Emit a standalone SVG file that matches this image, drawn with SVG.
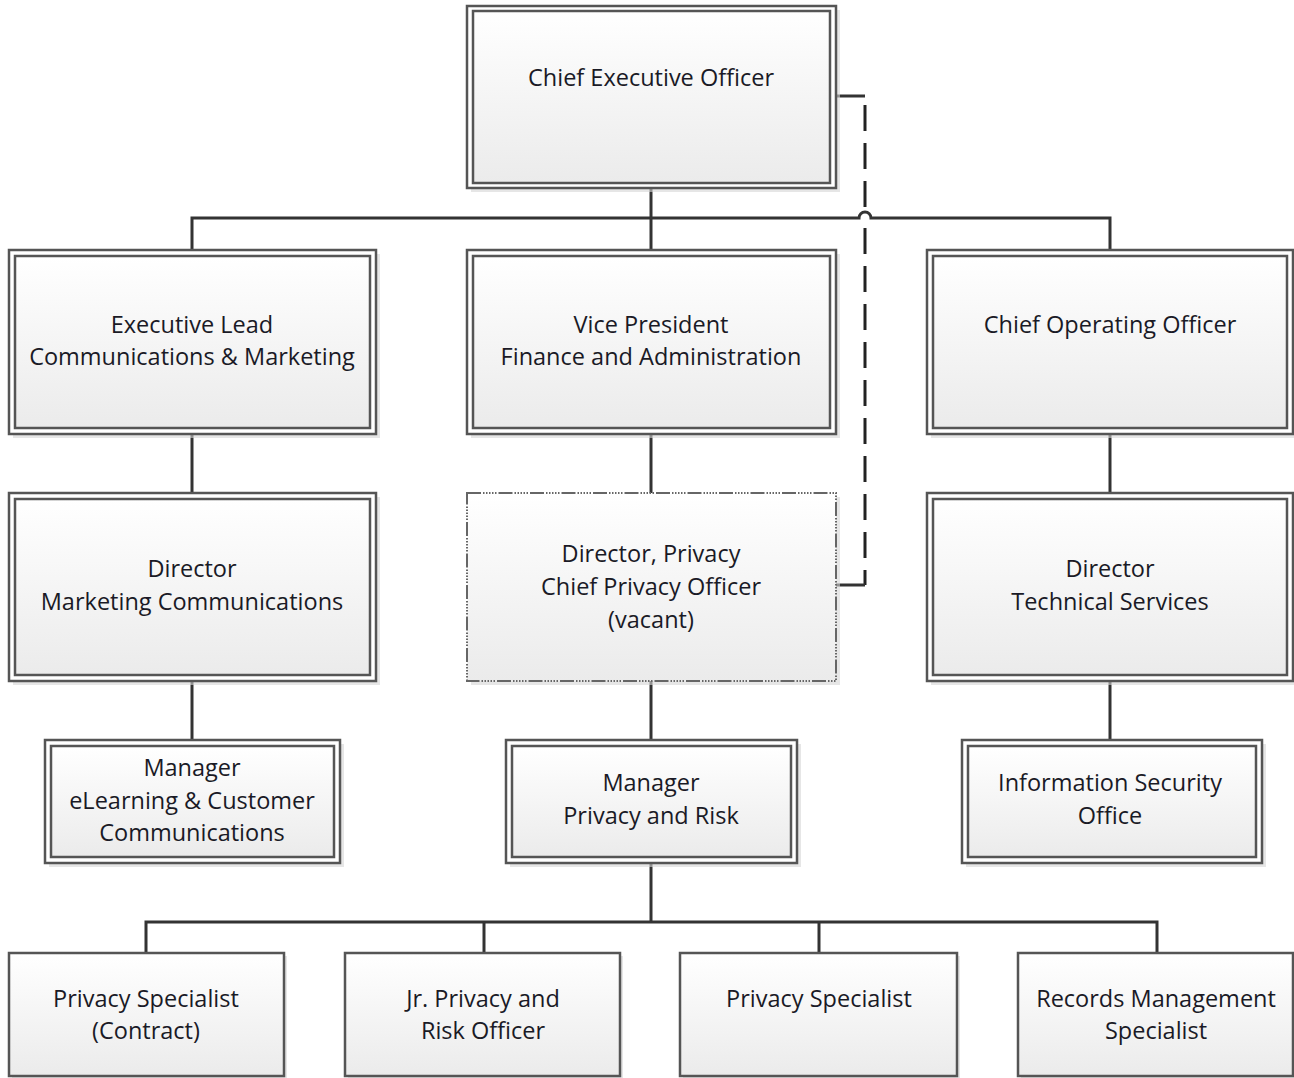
<svg xmlns="http://www.w3.org/2000/svg" width="1294" height="1078" viewBox="0 0 1294 1078">
<defs>
<linearGradient id="g" x1="0" y1="0" x2="0" y2="1">
<stop offset="0" stop-color="#ffffff"/>
<stop offset="1" stop-color="#ebebeb"/>
</linearGradient>
<style>
.sh{fill:#d6d6d6;opacity:0.6}
.outer{fill:#ffffff;stroke:#555;stroke-width:2.5}
.inner{fill:url(#g);stroke:#555;stroke-width:2.5}
.single{fill:url(#g);stroke:#555;stroke-width:2.5}
.dotted{fill:url(#g);stroke:#666;stroke-width:2;stroke-dasharray:14 2 1.5 1.5 1.5 1.5 1.5 1.5 1.5 1.5 1.5 2}
.t{font-family:"Open Sans","Noto Sans",sans-serif;font-size:23.5px;fill:#1a1a26;text-anchor:middle}
.c{fill:none;stroke:#333;stroke-width:3}
.d{fill:none;stroke:#222;stroke-width:3;stroke-dasharray:26 12}
</style>
</defs>
<rect width="1294" height="1078" fill="#ffffff"/>

<g id="connectors">
<path class="c" d="M651 188 V218"/>
<path class="c" d="M192 250 V218 H859 A6 6 0 0 1 871 218 H1110 V250"/>
<path class="c" d="M651 218 V250"/>
<path class="c" d="M192 434 V493"/>
<path class="c" d="M651 434 V493"/>
<path class="c" d="M1110 434 V493"/>
<path class="c" d="M192 681 V740"/>
<path class="c" d="M651 681 V740"/>
<path class="c" d="M1110 681 V740"/>
<path class="c" d="M651 863 V922"/>
<path class="c" d="M146 953 V922 H1157 V953"/>
<path class="c" d="M484 922 V953"/>
<path class="c" d="M819 922 V953"/>
<path class="c" d="M829 96 H865"/>
<path class="d" d="M865 105 V210"/>
<path class="d" d="M865 228 V585"/>
<path class="c" d="M836 585 H865"/>
</g>

<g id="ceo">
<rect class="sh" x="471" y="10" width="369" height="182"/>
<rect class="outer" x="467" y="6" width="369" height="182"/>
<rect class="inner" x="473" y="11" width="357" height="172"/>
<text class="t" x="651" y="86">Chief Executive Officer</text>
</g>

<g id="exec-lead">
<rect class="sh" x="13" y="254" width="367" height="184"/>
<rect class="outer" x="9" y="250" width="367" height="184"/>
<rect class="inner" x="15" y="256" width="355" height="172"/>
<text class="t" x="192" y="333">Executive Lead</text>
<text class="t" x="192" y="365">Communications &amp; Marketing</text>
</g>

<g id="vp">
<rect class="sh" x="471" y="254" width="369" height="184"/>
<rect class="outer" x="467" y="250" width="369" height="184"/>
<rect class="inner" x="473" y="256" width="357" height="172"/>
<text class="t" x="651" y="333">Vice President</text>
<text class="t" x="651" y="365">Finance and Administration</text>
</g>

<g id="coo">
<rect class="sh" x="931" y="254" width="366" height="184"/>
<rect class="outer" x="927" y="250" width="366" height="184"/>
<rect class="inner" x="933" y="256" width="354" height="172"/>
<text class="t" x="1110" y="333">Chief Operating Officer</text>
</g>

<g id="dir-marketing">
<rect class="sh" x="13" y="497" width="367" height="188"/>
<rect class="outer" x="9" y="493" width="367" height="188"/>
<rect class="inner" x="15" y="499" width="355" height="176"/>
<text class="t" x="192" y="577">Director</text>
<text class="t" x="192" y="610">Marketing Communications</text>
</g>

<g id="dir-privacy">
<rect class="sh" x="471" y="497" width="369" height="188"/>
<rect class="dotted" x="467" y="493" width="369" height="188"/>
<text class="t" x="651" y="562">Director, Privacy</text>
<text class="t" x="651" y="595">Chief Privacy Officer</text>
<text class="t" x="651" y="628">(vacant)</text>
</g>

<g id="dir-technical">
<rect class="sh" x="931" y="497" width="366" height="188"/>
<rect class="outer" x="927" y="493" width="366" height="188"/>
<rect class="inner" x="933" y="499" width="354" height="176"/>
<text class="t" x="1110" y="577">Director</text>
<text class="t" x="1110" y="610">Technical Services</text>
</g>

<g id="mgr-elearning">
<rect class="sh" x="49" y="744" width="295" height="123"/>
<rect class="outer" x="45" y="740" width="295" height="123"/>
<rect class="inner" x="51" y="746" width="283" height="111"/>
<text class="t" x="192" y="776">Manager</text>
<text class="t" x="192" y="809">eLearning &amp; Customer</text>
<text class="t" x="192" y="841">Communications</text>
</g>

<g id="mgr-privacy">
<rect class="sh" x="510" y="744" width="291" height="123"/>
<rect class="outer" x="506" y="740" width="291" height="123"/>
<rect class="inner" x="512" y="746" width="279" height="111"/>
<text class="t" x="651" y="791">Manager</text>
<text class="t" x="651" y="824">Privacy and Risk</text>
</g>

<g id="infosec">
<rect class="sh" x="966" y="744" width="300" height="123"/>
<rect class="outer" x="962" y="740" width="300" height="123"/>
<rect class="inner" x="968" y="746" width="288" height="111"/>
<text class="t" x="1110" y="791">Information Security</text>
<text class="t" x="1110" y="824">Office</text>
</g>

<g id="privacy-specialist-contract">
<rect class="sh" x="12" y="956" width="275" height="123"/>
<rect class="single" x="9" y="953" width="275" height="123"/>
<text class="t" x="146" y="1007">Privacy Specialist</text>
<text class="t" x="146" y="1039">(Contract)</text>
</g>

<g id="jr-privacy">
<rect class="sh" x="348" y="956" width="275" height="123"/>
<rect class="single" x="345" y="953" width="275" height="123"/>
<text class="t" x="483" y="1007">Jr. Privacy and</text>
<text class="t" x="483" y="1039">Risk Officer</text>
</g>

<g id="privacy-specialist">
<rect class="sh" x="683" y="956" width="277" height="123"/>
<rect class="single" x="680" y="953" width="277" height="123"/>
<text class="t" x="819" y="1007">Privacy Specialist</text>
</g>

<g id="records-mgmt">
<rect class="sh" x="1021" y="956" width="275" height="123"/>
<rect class="single" x="1018" y="953" width="275" height="123"/>
<text class="t" x="1156" y="1007">Records Management</text>
<text class="t" x="1156" y="1039">Specialist</text>
</g>
</svg>
